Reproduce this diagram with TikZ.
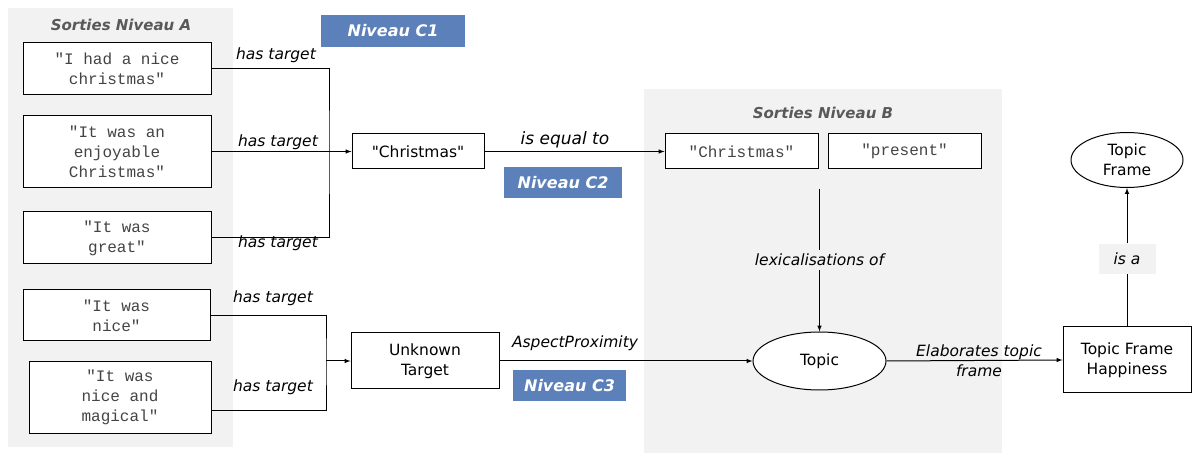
\documentclass[tikz,border=0pt]{standalone}
\usepackage{fontspec}
\setmainfont{DejaVu Sans}
\setmonofont{Liberation Mono}
\usepackage{tikz}
\usetikzlibrary{arrows,shapes}
\definecolor{panelgray}{HTML}{F2F2F2}
\definecolor{niveaublue}{HTML}{5B80BA}
\definecolor{titlegray}{HTML}{595959}
\definecolor{monogray}{HTML}{444444}
\newcommand{\qt}{\textquotedbl}
\tikzstyle{quotebox}=[draw,fill=white,line width=1pt,align=center,inner sep=0pt,text=monogray,font=\fontsize{16}{20}\selectfont\ttfamily]
\tikzstyle{conceptbox}=[draw,fill=white,line width=1pt,align=center,inner sep=0pt,font=\fontsize{15.5}{20}\selectfont]
\tikzstyle{concept}=[ellipse,draw,fill=white,line width=1pt,align=center,inner sep=0pt,font=\fontsize{15.5}{20}\selectfont]
\tikzstyle{levelbox}=[fill=niveaublue,text=white,inner sep=0pt,font=\fontsize{16}{18}\selectfont\bfseries\itshape]
\tikzstyle{paneltitle}=[text=titlegray,font=\fontsize{15}{17}\selectfont\bfseries\itshape]
\tikzstyle{rel}=[align=center,inner sep=4pt,font=\fontsize{15.5}{20}\selectfont\itshape]

\begin{document}
\begin{tikzpicture}[x=1pt,y=-1pt,>=latex,line width=1pt]
        \useasboundingbox (0,0) rectangle (1192,454);
        \fill[panelgray] (8,8) rectangle (233,447);
        \fill[panelgray] (644,89) rectangle (1002,453);
        \node[paneltitle] (titleA) at (121,25) {Sorties Niveau A};
        \node[paneltitle] (titleB) at (823,113) {Sorties Niveau B};
        \node[levelbox,minimum width=144,minimum height=32] (c1) at (393,31) {Niveau C1};
        \node[levelbox,minimum width=118,minimum height=31] (c2) at (563,182.5) {Niveau C2};
        \node[levelbox,minimum width=113,minimum height=31] (c3) at (569.5,385.5) {Niveau C3};
        % sorties niveau A
        \node[quotebox,minimum width=188,minimum height=52] (a1) at (117,69) {\qt I had a nice\\christmas\qt};
        \node[quotebox,minimum width=188,minimum height=72] (a2) at (117,151.5) {\qt It was an\\enjoyable\\Christmas\qt};
        \node[quotebox,minimum width=188,minimum height=52] (a3) at (117,238) {\qt It was\\great\qt};
        \node[quotebox,minimum width=187,minimum height=51] (a4) at (116.5,315.5) {\qt It was\\nice\qt};
        \node[quotebox,minimum width=182,minimum height=71] (a5) at (120,397.5) {\qt It was\\nice and\\magical\qt};
        \node[conceptbox,minimum width=132,minimum height=35] (chr) at (418,151.5) {\qt Christmas\qt};
        \node[conceptbox,minimum width=148,minimum height=56] (unk) at (425,361) {Unknown\\Target};
        % sorties niveau B
        \node[quotebox,minimum width=153,minimum height=35] (b1) at (741.5,151.5) {\qt Christmas\qt};
        \node[quotebox,minimum width=153,minimum height=35] (b2) at (904.5,151.5) {\qt present\qt};
        \node[concept,minimum width=133,minimum height=58] (topic) at (819.5,361) {Topic};
        \node[concept,minimum width=112,minimum height=55] (tframe) at (1127,160) {Topic\\Frame};
        \node[conceptbox,minimum width=128,minimum height=66] (happy) at (1127,360) {Topic Frame\\Happiness};
        % connectors
        \coordinate (joinA) at (329,151.5);
        \coordinate (joinB) at (326,361);
        \coordinate (lexstart) at (819.5,189);
        \draw (a1.east) -| (joinA) |- (a3.east);
        \draw[->] (a2.east) -- (chr.west);
        \draw (a4.east) -| (joinB) |- ([yshift=-13pt]a5.east);
        \draw[->] (joinB) -- (unk.west);
        \draw[->] (chr.east) -- (b1.west);
        \draw[->] (unk.east) -- (topic.west);
        \draw[->] (topic.east) -- (happy.west);
        \node[rel] (ht1) at (276,55) {has target};
        \node[rel] (ht2) at (278,142) {has target};
        \node[rel] (ht3) at (278,243) {has target};
        \node[rel] (ht4) at (273,298) {has target};
        \node[rel] (ht5) at (273,387) {has target};
        \node[rel,font=\fontsize{17}{20}\selectfont\itshape] (eq) at (565,140) {is equal to};
        \node[rel] (aspect) at (575,343) {AspectProximity};
        \node[rel] (elab) at (979,361) {Elaborates topic\\frame};
        \node[rel] (lex) at (819.5,260) {lexicalisations of};
        \node[rel,fill=panelgray,minimum width=57,minimum height=30] (isa) at (1127,259) {is a};
        \draw[->] (lexstart) -- (lex) -- (topic);
        \draw[->] (happy) -- (isa) -- (tframe);
      \end{tikzpicture}
\end{document}
